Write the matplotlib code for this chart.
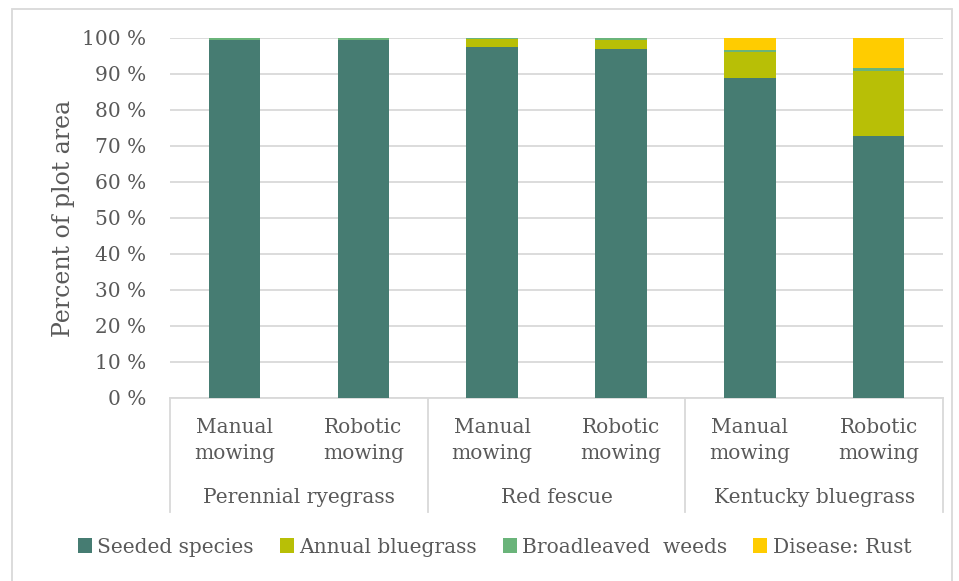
import matplotlib.pyplot as plt
import numpy as np

# treatment bars, grouped by grass species
groups = ["Perennial ryegrass", "Red fescue", "Kentucky bluegrass"]
treatments = ["Manual\nmowing", "Robotic\nmowing"]

# share of plot area (%) per bar, left to right
seeded = [99.5, 99.5, 97.4, 97.0, 89.0, 72.9]
annual_bluegrass = [0.0, 0.0, 2.3, 2.5, 7.2, 17.9]
broadleaved_weeds = [0.5, 0.5, 0.3, 0.5, 0.5, 0.9]
rust = [0.0, 0.0, 0.0, 0.0, 3.3, 8.3]

series = [
    ("Seeded species", seeded, "#467c72"),
    ("Annual bluegrass", annual_bluegrass, "#b8bf06"),
    ("Broadleaved  weeds", broadleaved_weeds, "#6ab47a"),
    ("Disease: Rust", rust, "#ffcc00"),
]

txt = "#595959"
grid = "#d9d9d9"
plt.rcParams["font.family"] = ["DejaVu Serif"]

fig = plt.figure(figsize=(9.59, 5.81), dpi=100)
ax = fig.add_axes([0.1773, 0.315, 0.806, 0.6196])

x = np.arange(len(seeded))
bottom = np.zeros(len(seeded))
for name, vals, col in series:
    ax.bar(x, vals, width=0.4, bottom=bottom, color=col, label=name, zorder=3)
    bottom += np.array(vals)

ax.set_xlim(-0.5, len(seeded) - 0.5)
ax.set_ylim(0, 100)
ax.set_yticks(range(0, 101, 10))
ax.set_yticklabels([f"{v} %" for v in range(0, 101, 10)], color=txt, fontsize=14.5)
ax.tick_params(axis="y", length=0, pad=17)
ax.grid(axis="y", color=grid, linewidth=1.3, zorder=0)
for s in ["top", "right", "left"]:
    ax.spines[s].set_visible(False)
ax.spines["bottom"].set_color(grid)
ax.spines["bottom"].set_linewidth(1.3)
ax.set_xticks([])
ax.set_ylabel("Percent of plot area", color=txt, fontsize=17, labelpad=5)

# two-level category axis below the plot
for i in range(len(seeded)):
    ax.text(i, -11.9, treatments[i % 2], ha="center", va="center",
            color=txt, fontsize=14.5, linespacing=1.45, clip_on=False)
for g, name in enumerate(groups):
    ax.text(2 * g + 0.5, -27.6, name, ha="center", va="center", color=txt,
            fontsize=14.5, clip_on=False)
for b in [-0.5, 1.5, 3.5, 5.5]:
    ax.plot([b, b], [0, -31.8], color=grid, linewidth=1.3, clip_on=False)

ax.legend(loc="center", bbox_to_anchor=(0.42, -0.414), ncol=4, frameon=False,
          fontsize=14.5, handlelength=0.7, handleheight=0.7, handletextpad=0.25,
          columnspacing=1.3, labelcolor=txt)

# light frame around the figure
fig.add_artist(plt.Rectangle((12 / 959, -0.05), 940 / 959, 1 - 9 / 581 + 0.05,
                             transform=fig.transFigure, fill=False,
                             edgecolor=grid, linewidth=1.3))

fig.savefig("out.png", dpi=100)
